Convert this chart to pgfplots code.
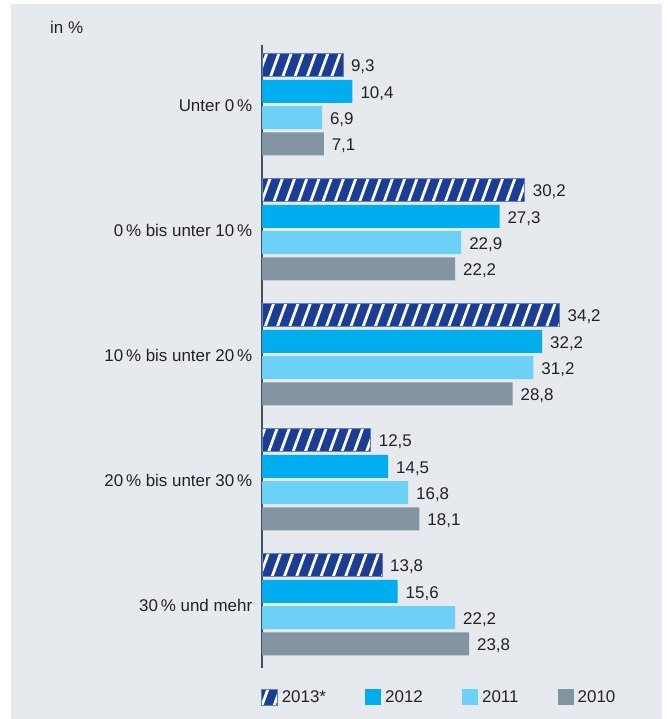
\documentclass[border=0pt]{standalone}
\usepackage{pgfplots}
\pgfplotsset{compat=1.18}
\usepackage{fontspec}
\setmainfont{Liberation Sans}
\usetikzlibrary{patterns.meta}

\definecolor{bgc}{HTML}{E6E9EE}
\definecolor{txt}{HTML}{222222}
\definecolor{axc}{HTML}{3E5260}
\definecolor{c13}{HTML}{1C3D94}
\definecolor{c13b}{HTML}{5F7FC8}
\definecolor{c12}{HTML}{00AEEF}
\definecolor{c11}{HTML}{6DD0F6}
\definecolor{c10}{HTML}{8395A2}

\newcommand\lab{\fontsize{17}{20}\selectfont}

\begin{document}
\begin{tikzpicture}[x=1bp,y=1bp]
\fill[white] (0,0) rectangle (668,719);
\fill[bgc] (11,0) rectangle (662,715);
\node[anchor=west, font=\lab, text=txt, inner sep=0] at (50,692) {in \%};

\begin{axis}[
    at={(262bp,51bp)}, anchor=south west,
    scale only axis,
    width=348bp, height=623bp,
    xbar,
    bar width=0.184,
    xmin=0, xmax=40,
    ymin=-0.476, ymax=4.508,
    y dir=reverse,
    axis x line=none,
    axis y line=left,
    y axis line style={-, line width=2bp, draw=axc},
    xtick=\empty,
    ytick={0,1,2,3,4},
    yticklabels={Unter 0\,\%, 0\,\% bis unter 10\,\%, 10\,\% bis unter 20\,\%,
                 20\,\% bis unter 30\,\%, 30\,\% und mehr},
    major tick length=0,
    yticklabel style={font=\lab, text=txt, xshift=-6.3bp, yshift=-1bp},
    clip=false,
    nodes near coords,
    nodes near coords style={font=\lab, text=txt, anchor=west,
        xshift=4.5bp, yshift=-2bp},
    /pgf/number format/.cd, use comma, fixed, fixed zerofill, precision=1,
        assume math mode=true,
    /pgfplots/.cd,
    legend columns=4,
    legend style={at={(axis description cs:-0.003,-0.0466)}, anchor=west,
        draw=none, fill=none, inner sep=0, font=\lab, text=txt,
        nodes={inner sep=2.5bp},
        /tikz/every odd column/.append style={column sep=1.5bp},
        /tikz/every even column/.append style={column sep=36.7bp}},
    legend image code/.code={\path[#1] (0bp,-8bp) rectangle (16bp,8bp);},
]

\addplot[bar shift=-0.315, draw=c13b, line width=0.6bp,
    preaction={fill=c13},
    pattern={Lines[angle=70, distance=11.5bp, line width=2.8bp]},
    pattern color=white]
    coordinates {(9.3,0) (30.2,1) (34.2,2) (12.5,3) (13.8,4)};
\addplot[bar shift=-0.105, fill=c12, draw=none]
    coordinates {(10.4,0) (27.3,1) (32.2,2) (14.5,3) (15.6,4)};
\addplot[bar shift=0.105, fill=c11, draw=none]
    coordinates {(6.9,0) (22.9,1) (31.2,2) (16.8,3) (22.2,4)};
\addplot[bar shift=0.315, fill=c10, draw=none]
    coordinates {(7.1,0) (22.2,1) (28.8,2) (18.1,3) (23.8,4)};

\legend{2013*, 2012, 2011, 2010}
\end{axis}

\pgfresetboundingbox
\path (0,0) rectangle (668,719);
\end{tikzpicture}
\end{document}
